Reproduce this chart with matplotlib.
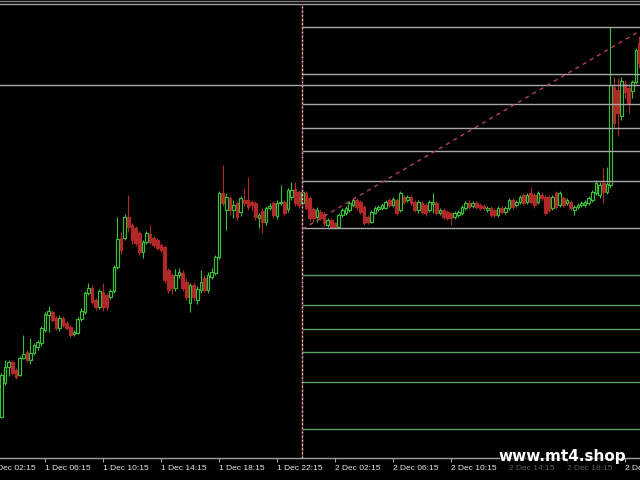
import matplotlib.pyplot as plt
from matplotlib.lines import Line2D
from matplotlib.patches import Rectangle
from matplotlib.transforms import ScaledTranslation, blended_transform_factory

# M15 candles, bar 0 = 1 Dec 02:15, first visible bar is 4
first_bar = 4

opens = [41, 75, 91, 96, 88, 83, 100, 106, 98, 105,
         111, 115, 128, 143, 146, 140, 130, 140, 135, 131,
         124, 125, 139, 146, 165, 170, 158, 151, 166, 163,
         161, 167, 191, 220, 220, 241, 233, 230, 225, 206,
         216, 224, 220, 218, 213, 211, 188, 183, 170, 183,
         185, 176, 155, 173, 158, 168, 180, 168, 181, 185,
         201, 265, 248, 260, 248, 255, 246, 258, 258, 256,
         255, 240, 247, 236, 250, 255, 242, 255, 256, 249,
         261, 269, 266, 255,
         265, 260, 249, 241, 246, 244, 233, 238, 235, 231,
         243, 245, 248, 253, 258, 256, 251, 241, 236, 245,
         249, 250, 250, 258, 253, 258, 248, 261, 258, 261,
         256, 248, 255, 253, 248, 254, 255, 245, 248, 246,
         245, 241, 243, 245, 250, 255, 252, 255, 253, 252,
         248, 250, 248, 243, 250, 246, 250, 258, 253, 256,
         263, 256, 265, 263, 256, 263, 261, 261, 250, 265,
         253, 260, 255, 256, 248, 251, 253, 253, 255, 258,
         265, 263, 275, 266,
         273, 371, 368, 342, 374, 370, 367, 376, 415]
highs = [85, 98, 98, 98, 90, 102, 123, 108, 120, 115,
         118, 132, 146, 152, 148, 142, 143, 142, 137, 133,
         128, 141, 150, 167, 175, 173, 160, 169, 175, 165,
         169, 193, 241, 226, 244, 263, 235, 232, 227, 218,
         227, 233, 222, 220, 215, 213, 190, 185, 189, 190,
         188, 180, 175, 176, 172, 188, 183, 186, 190, 203,
         267, 293, 265, 262, 258, 257, 262, 270, 281, 258,
         257, 245, 250, 252, 255, 257, 258, 273, 258, 270,
         276, 276, 268, 268,
         267, 262, 251, 251, 249, 246, 240, 240, 236, 245,
         250, 252, 257, 260, 260, 258, 253, 243, 248, 252,
         253, 255, 258, 260, 261, 260, 267, 263, 263, 263,
         258, 258, 257, 255, 258, 265, 257, 250, 250, 248,
         246, 247, 248, 253, 257, 258, 257, 257, 255, 254,
         252, 252, 250, 252, 252, 252, 260, 260, 258, 263,
         265, 265, 271, 265, 267, 266, 263, 263, 263, 267,
         267, 262, 260, 258, 253, 255, 257, 258, 262, 268,
         278, 276, 290, 291,
         431, 381, 380, 381, 378, 374, 378, 410, 422]
lows = [40, 73, 82, 83, 79, 82, 99, 96, 94, 103,
        108, 112, 126, 126, 136, 128, 127, 131, 128, 121,
        122, 124, 137, 144, 163, 154, 148, 149, 147, 148,
        159, 165, 189, 204, 218, 226, 214, 212, 203, 200,
        214, 214, 211, 208, 206, 175, 165, 164, 167, 180,
        167, 158, 146, 157, 154, 165, 166, 165, 179, 183,
        199, 252, 228, 243, 240, 238, 242, 252, 248, 247,
        238, 230, 225, 233, 248, 240, 239, 253, 243, 246,
        258, 252, 250, 252,
        248, 237, 236, 236, 238, 232, 231, 230, 230, 230,
        241, 243, 246, 251, 248, 244, 233, 234, 235, 244,
        247, 248, 249, 251, 251, 243, 246, 254, 256, 253,
        246, 245, 244, 242, 246, 245, 243, 243, 239, 238,
        233, 239, 241, 243, 248, 249, 250, 249, 248, 248,
        246, 241, 241, 241, 244, 244, 248, 249, 251, 254,
        253, 254, 254, 250, 254, 258, 243, 246, 248, 249,
        251, 251, 253, 248, 243, 249, 251, 251, 253, 256,
        263, 260, 255, 264,
        270, 330, 322, 338, 360, 345, 360, 374, 390]
closes = [83, 91, 96, 85, 81, 100, 104, 98, 105, 113,
          116, 130, 144, 147, 138, 130, 140, 133, 130, 123,
          126, 139, 147, 165, 170, 156, 151, 167, 151, 151,
          167, 191, 219, 208, 241, 231, 218, 215, 206, 216,
          225, 216, 213, 210, 208, 178, 168, 170, 183, 186,
          170, 161, 173, 161, 169, 176, 168, 183, 186, 201,
          265, 255, 261, 248, 253, 241, 260, 255, 251, 253,
          241, 243, 236, 250, 252, 243, 255, 256, 245, 268,
          268, 255, 253, 266,
          250, 240, 240, 248, 240, 235, 238, 231, 231, 243,
          248, 250, 255, 258, 251, 246, 235, 236, 246, 250,
          251, 253, 256, 253, 259, 245, 265, 256, 261, 255,
          248, 256, 246, 245, 256, 256, 245, 248, 241, 240,
          240, 245, 246, 251, 255, 251, 255, 251, 250, 250,
          250, 243, 243, 250, 246, 250, 258, 251, 256, 261,
          255, 263, 256, 253, 265, 260, 245, 248, 261, 251,
          265, 253, 258, 250, 251, 253, 255, 256, 260, 266,
          275, 273, 266, 274,
          373, 335, 345, 377, 366, 355, 376, 408, 395]

tick_bars = [0, 16, 32, 48, 64, 80, 96, 112, 128, 144, 160, 176]
tick_labels = ['1 Dec 02:15', '1 Dec 06:15', '1 Dec 10:15', '1 Dec 14:15',
               '1 Dec 18:15', '1 Dec 22:15', '2 Dec 02:15', '2 Dec 06:15',
               '2 Dec 10:15', '2 Dec 14:15', '2 Dec 18:15', '2 Dec 22:15']

# fibonacci from the day's low to the spike high
fib_low, fib_high = 230, 431
fib_up = [0, 0.236, 0.382, 0.5, 0.618, 0.764, 1.0]
fib_down = [-0.236, -0.382, -0.5, -0.618, -0.764, -1.0]
hline_price = 373
separator_bar = 87
trend_start = (87, 229)
trend_end = (181, 429)

bull = '#38c038'
bear = '#b02828'

fig = plt.figure(figsize=(6.4, 4.8), dpi=100, facecolor='black')
ax = fig.add_axes([0, 0.0458, 1, 0.9458], facecolor='black')

for i, (o, h, l, c) in enumerate(zip(opens, highs, lows, closes)):
    x = first_bar + i
    up = c >= o
    col = bull if up else bear
    ax.vlines(x, l, h, color=col, lw=0.8, zorder=2)
    ax.add_patch(Rectangle((x - 0.35, min(o, c)), 0.7, max(abs(c - o), 0.6),
                           facecolor='black' if up else bear, edgecolor=col,
                           lw=0.85, zorder=2))

# levels
for r in fib_up:
    ax.hlines(fib_low + r * (fib_high - fib_low), separator_bar, 182,
              color='#a8a8a8', lw=1, zorder=3)
for r in fib_down:
    ax.hlines(fib_low + r * (fib_high - fib_low), separator_bar, 182,
              color='#5a9e6a', lw=1, zorder=3)
ax.axhline(hline_price, color='#a8a8a8', lw=1, zorder=3)

ax.plot([trend_start[0], trend_end[0]], [trend_start[1], trend_end[1]],
        color='#b0405a', lw=1, linestyle=(0, (3, 3)), zorder=3)

ax.axvline(separator_bar, color='#d0d0d0', lw=1, linestyle=(0, (1.5, 1.5)), zorder=3)
ax.axvline(separator_bar, color='#b03848', lw=1, linestyle=(1.5, (1.5, 1.5)), zorder=3)

ax.set_xticks(tick_bars[1:])
ax.set_xticklabels(tick_labels[1:], fontsize=6, color='#e6e6e6',
                   family='Liberation Sans', ha='left')
offset = ScaledTranslation(2 / 72, 0, fig.dpi_scale_trans)
for lab in ax.get_xticklabels():
    lab.set_transform(lab.get_transform() + offset)
ax.tick_params(axis='x', direction='out', length=3, color='#a0a0a0', pad=2)
ax.tick_params(axis='y', left=False, labelleft=False)

ax.set_xlim(3.59, 180.14)
ax.set_ylim(0, 454)

# first label sits left of the visible window, only its tail shows
first_lab = ax.text(tick_bars[0], 0, tick_labels[0], fontsize=6, color='#e6e6e6',
                    family='Liberation Sans', ha='left', va='top', clip_on=False,
                    transform=blended_transform_factory(ax.transData, ax.transAxes))
first_lab.set_transform(first_lab.get_transform()
                        + ScaledTranslation(2 / 72, -5 / 72, fig.dpi_scale_trans))

for side in ['left', 'right']:
    ax.spines[side].set_visible(False)
for side in ['top', 'bottom']:
    ax.spines[side].set_color('#a0a0a0')
    ax.spines[side].set_linewidth(1)

fig.add_artist(Line2D([0, 1], [0.998, 0.998], color='#808080', lw=1))

# watermark with dark backing
fig.patches.append(Rectangle((0.781, 0), 0.189, 0.073, transform=fig.transFigure,
                             facecolor='black', alpha=0.6, edgecolor='none'))
fig.text(0.879, 0.05, 'www.mt4.shop', color='white', fontsize=11,
         fontweight='bold', ha='center', va='center')

fig.savefig('out.png', dpi=100, facecolor='black')
